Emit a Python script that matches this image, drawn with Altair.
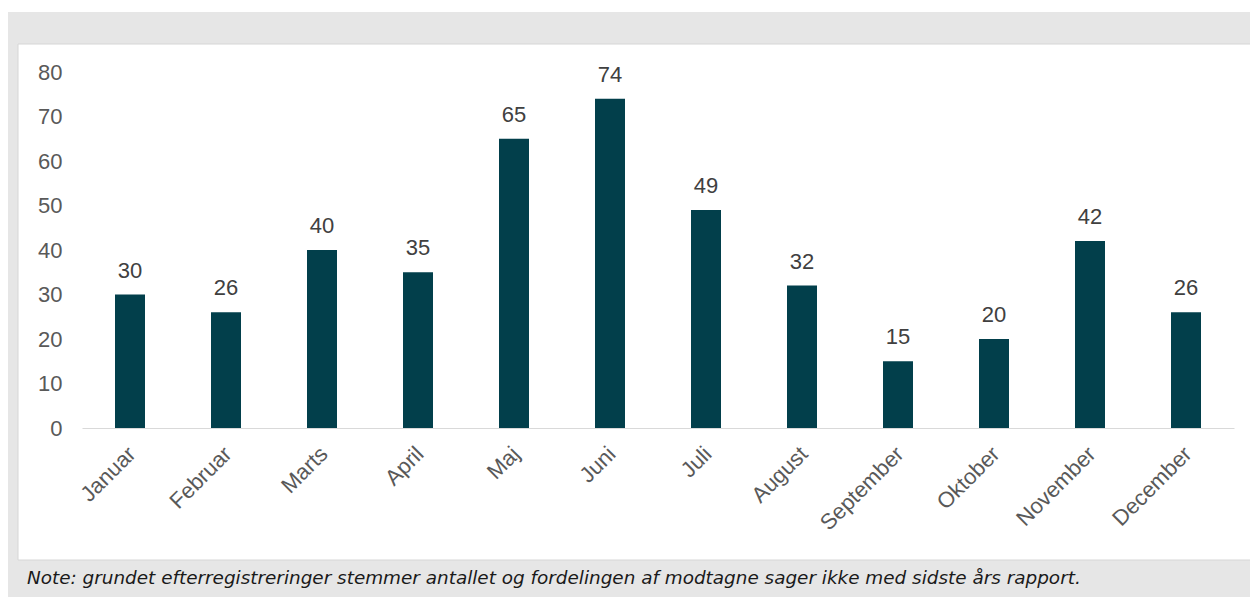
import altair as alt
import pandas as pd

months = ["Januar", "Februar", "Marts", "April", "Maj", "Juni", "Juli",
          "August", "September", "Oktober", "November", "December"]
values = [30, 26, 40, 35, 65, 74, 49, 32, 15, 20, 42, 26]
y_ticks = [0, 10, 20, 30, 40, 50, 60, 70, 80]
note = "Note: grundet efterregistreringer stemmer antallet og fordelingen af modtagne sager ikke med sidste års rapport."

df = pd.DataFrame({"month": months, "value": values})
one = pd.DataFrame({"k": [0]})

BAR = "#023f4b"
FONT = "Liberation Sans"

panel = alt.Chart(one).mark_rect(fill="white", stroke="#d6d6d6", strokeWidth=1).encode(
    x=alt.value(-64), x2=alt.value(1172), y=alt.value(-28), y2=alt.value(488)
)
topstrip = alt.Chart(one).mark_rect(fill="white").encode(
    x=alt.value(-80), x2=alt.value(1180), y=alt.value(-70), y2=alt.value(-60)
)

xenc = alt.X("month:N", sort=months, title=None,
             scale=alt.Scale(paddingInner=0.6875, paddingOuter=0.34375),
             axis=alt.Axis(labelAngle=-45, labelAlign="right", labelBaseline="top",
                           labelPadding=15, labelOffset=-5, labelFontSize=22,
                           labelColor="#595959",
                           labelFont=FONT, ticks=False, domainColor="#d9d9d9",
                           domainWidth=1, grid=False, zindex=1))
yenc = alt.Y("value:Q", title=None,
             scale=alt.Scale(domain=[0, 80], nice=False),
             axis=alt.Axis(values=y_ticks, labelFontSize=22, labelColor="#595959",
                           labelFont=FONT, ticks=False, domain=False, grid=False,
                           labelPadding=20, zindex=1))

bars = alt.Chart(df).mark_bar(color=BAR).encode(x=xenc, y=yenc)
labels = alt.Chart(df).mark_text(fontSize=22, font=FONT, color="#404040",
                                 baseline="alphabetic", dy=-17).encode(
    x=alt.X("month:N", sort=months), y="value:Q", text="value:Q")

note_text = alt.Chart(one).mark_text(
    text=note, align="left", baseline="middle", font="DejaVu Sans",
    fontStyle="italic", fontSize=18.4, color="#1a1a1a"
).encode(x=alt.value(-55), y=alt.value(506))

chart = alt.layer(topstrip, panel, bars, labels, note_text).properties(
    width=1152, height=356,
    padding={"left": 74, "top": 64, "right": 16, "bottom": 169},
    autosize=alt.AutoSizeParams(type="none"),
    background="#e6e6e6",
).configure_view(stroke=None)

chart.save("out.html", embed_options={"renderer": "svg", "actions": False})
